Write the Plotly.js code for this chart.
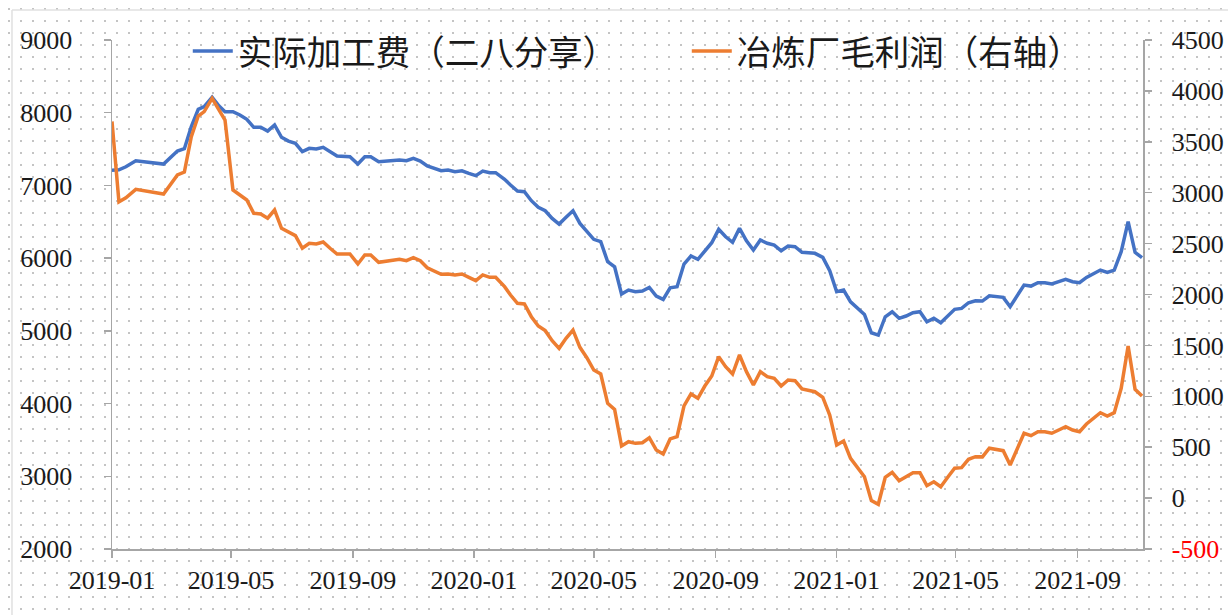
<!DOCTYPE html>
<html>
<head>
<meta charset="utf-8">
<script src="https://cdn.plot.ly/plotly-3.0.1.min.js"></script>
<style>
  html, body { margin: 0; padding: 0; width: 1228px; height: 615px; overflow: hidden;
    background-color: #ffffff;
    background-image: radial-gradient(circle, #c4c4c4 0.9px, rgba(255,255,255,0) 1.3px);
    background-size: 12px 12px; background-position: 3px 3px; }
  #chart { width: 1228px; height: 615px; }
  #chart .xtick text, #chart .ytick text, #chart .y2tick text {
    font-family: 'Liberation Serif', 'Times New Roman', 'DejaVu Serif', serif !important; }
</style>
</head>
<body>
<div id="chart"></div>
<script>
// Weekly dates (read from the x positions of the vertices)
const dates = [
  '2019-01-01','2019-01-08','2019-01-15','2019-01-25','2019-02-22','2019-03-01','2019-03-08','2019-03-15',
  '2019-03-22','2019-03-29','2019-04-04','2019-04-12','2019-04-19','2019-04-25','2019-05-03','2019-05-10',
  '2019-05-17','2019-05-24','2019-05-31','2019-06-07','2019-06-14','2019-06-21','2019-06-28','2019-07-05',
  '2019-07-12','2019-07-19','2019-07-26','2019-08-02','2019-08-09','2019-08-16','2019-08-29','2019-09-06',
  '2019-09-13','2019-09-19','2019-09-27','2019-10-08','2019-10-18','2019-10-25','2019-11-01','2019-11-08',
  '2019-11-15','2019-11-29','2019-12-06','2019-12-13','2019-12-20','2019-12-27','2020-01-03','2020-01-10',
  '2020-01-17','2020-01-23','2020-02-01','2020-02-07','2020-02-14','2020-02-21','2020-02-28','2020-03-06',
  '2020-03-13','2020-03-20','2020-03-27','2020-04-03','2020-04-10','2020-04-17','2020-04-24','2020-05-01',
  '2020-05-08','2020-05-15','2020-05-22','2020-05-29','2020-06-05','2020-06-12','2020-06-19','2020-06-26',
  '2020-07-03','2020-07-10','2020-07-17','2020-07-24','2020-07-31','2020-08-07','2020-08-14','2020-08-21',
  '2020-08-28','2020-09-04','2020-09-11','2020-09-18','2020-09-25','2020-10-02','2020-10-09','2020-10-16',
  '2020-10-23','2020-10-30','2020-11-06','2020-11-13','2020-11-20','2020-11-27','2020-12-04','2020-12-10',
  '2020-12-18','2020-12-25','2021-01-01','2021-01-08','2021-01-15','2021-01-22','2021-01-29','2021-02-05',
  '2021-02-12','2021-02-19','2021-02-26','2021-03-05','2021-03-12','2021-03-19','2021-03-26','2021-04-02',
  '2021-04-09','2021-04-16','2021-04-23','2021-04-30','2021-05-07','2021-05-14','2021-05-21','2021-05-28',
  '2021-06-04','2021-06-18','2021-06-25','2021-07-02','2021-07-09','2021-07-16','2021-07-23','2021-07-30',
  '2021-08-06','2021-08-13','2021-08-20','2021-08-27','2021-09-03','2021-09-10','2021-09-17','2021-09-24',
  '2021-10-01','2021-10-08','2021-10-15','2021-10-22','2021-10-29','2021-11-05'
];

// 实际加工费（二八分享） — left axis
const processingFee = [
  7210,7215,7257,7340,7294,7390,7473,7505,
  7808,8047,8083,8212,8092,8014,8014,7968,
  7909,7799,7799,7748,7831,7662,7610,7579,
  7464,7510,7501,7524,7464,7404,7395,7294,
  7395,7395,7326,7336,7349,7340,7372,7336,
  7267,7202,7212,7189,7202,7166,7134,7198,
  7175,7175,7084,7006,6923,6914,6790,6699,
  6652,6547,6469,6561,6652,6478,6377,6259,
  6226,5951,5882,5506,5561,5538,5548,5598,
  5479,5433,5593,5607,5919,6029,5983,6102,
  6212,6396,6294,6217,6410,6239,6111,6249,
  6204,6180,6102,6166,6157,6080,6066,6066,
  6011,5827,5538,5561,5400,5309,5226,4974,
  4942,5194,5263,5172,5204,5249,5263,5125,
  5172,5112,5204,5296,5309,5387,5414,5410,
  5483,5461,5332,5492,5630,5616,5662,5662,
  5644,5676,5708,5676,5662,5735,5791,5836,
  5805,5836,6088,6501,6080,6006
];

// 冶炼厂毛利润（右轴） — right axis
const smelterProfit = [
  3700,2910,2950,3033,2987,3076,3174,3203,
  3550,3753,3796,3927,3806,3714,3027,2977,
  2928,2798,2791,2749,2830,2650,2615,2578,
  2454,2503,2496,2516,2454,2398,2398,2300,
  2388,2388,2316,2329,2346,2332,2362,2332,
  2263,2198,2201,2192,2201,2169,2136,2192,
  2169,2169,2077,1995,1913,1907,1782,1691,
  1645,1546,1471,1570,1651,1481,1379,1258,
  1219,931,872,512,554,538,544,593,
  473,433,581,604,905,1023,980,1101,
  1199,1389,1291,1219,1406,1242,1111,1242,
  1193,1177,1101,1160,1153,1072,1062,1045,
  990,816,522,561,391,299,210,-25,
  -61,204,253,171,210,250,250,122,
  161,112,204,293,299,381,407,405,
  490,466,325,490,637,613,652,652,
  637,669,702,669,652,728,784,839,
  806,839,1079,1494,1069,1003
];

const leftTicks = [2000,3000,4000,5000,6000,7000,8000,9000];
const rightTicks = [-500,0,500,1000,1500,2000,2500,3000,3500,4000,4500];
const rightTickText = ['<span style="color:#ff0000">-500</span>','0','500','1000','1500','2000','2500','3000','3500','4000','4500'];
const seriesNames = ['实际加工费（二八分享）','冶炼厂毛利润（右轴）'];

const numFont = {family: 'Liberation Serif, Times New Roman, serif', size: 26, color: '#1a1a1a'};
const axisCol = '#a6a6a6';

const traces = [
  {x: dates, y: processingFee, name: seriesNames[0], type: 'scatter', mode: 'lines',
   line: {color: '#4472C4', width: 3.5}, yaxis: 'y'},
  {x: dates, y: smelterProfit, name: seriesNames[1], type: 'scatter', mode: 'lines',
   line: {color: '#ED7D31', width: 3.5}, yaxis: 'y2'}
];

const layout = {
  width: 1228, height: 615,
  margin: {l: 112, r: 85, t: 40, b: 66},
  paper_bgcolor: 'rgba(0,0,0,0)', plot_bgcolor: 'rgba(0,0,0,0)',
  font: {family: 'Liberation Serif, serif', color: '#1a1a1a'},
  showlegend: true,
  legend: {orientation: 'h', x: 0.0735, xanchor: 'left', y: 0.978, yanchor: 'middle',
           font: {family: 'Noto Sans CJK SC, sans-serif', size: 34.5, color: '#1a1a1a'},
           bgcolor: 'rgba(0,0,0,0)', entrywidth: 444, entrywidthmode: 'pixels', itemwidth: 40},
  xaxis: {type: 'date', range: ['2019-01-01', '2021-11-06'], tick0: '2019-01-01', dtick: 'M4',
          tickformat: '%Y-%m', showgrid: false, zeroline: false, showline: true, linecolor: axisCol,
          linewidth: 1.5, ticks: 'outside', ticklen: 7, tickcolor: axisCol, tickwidth: 1.5,
          tickfont: numFont, ticklabelstandoff: 0},
  yaxis: {range: [2000, 9000], tickvals: leftTicks, showgrid: false, zeroline: false,
          showline: true, linecolor: axisCol, linewidth: 1.5, ticks: 'outside', ticklen: 7,
          tickcolor: axisCol, tickwidth: 1.5, tickfont: numFont, ticklabelstandoff: 26},
  yaxis2: {range: [-500, 4500], tickvals: rightTicks, ticktext: rightTickText, overlaying: 'y',
           side: 'right', showgrid: false, zeroline: false, showline: true, linecolor: axisCol,
           linewidth: 1.5, ticks: 'outside', ticklen: 7, tickcolor: axisCol, tickwidth: 1.5,
           tickfont: numFont, ticklabelstandoff: 15},
  shapes: [
    {type: 'line', xref: 'paper', yref: 'paper', x0: -0.097, x1: 1.1, y0: 1.059, y1: 1.059,
     line: {color: '#e0e0e0', width: 1.5}},
    {type: 'line', xref: 'paper', yref: 'paper', x0: -0.097, x1: -0.097, y0: -0.2, y1: 1.059,
     line: {color: '#e0e0e0', width: 1.5}}
  ]
};

Plotly.newPlot('chart', traces, layout, {displayModeBar: false, staticPlot: true});
</script>
</body>
</html>
